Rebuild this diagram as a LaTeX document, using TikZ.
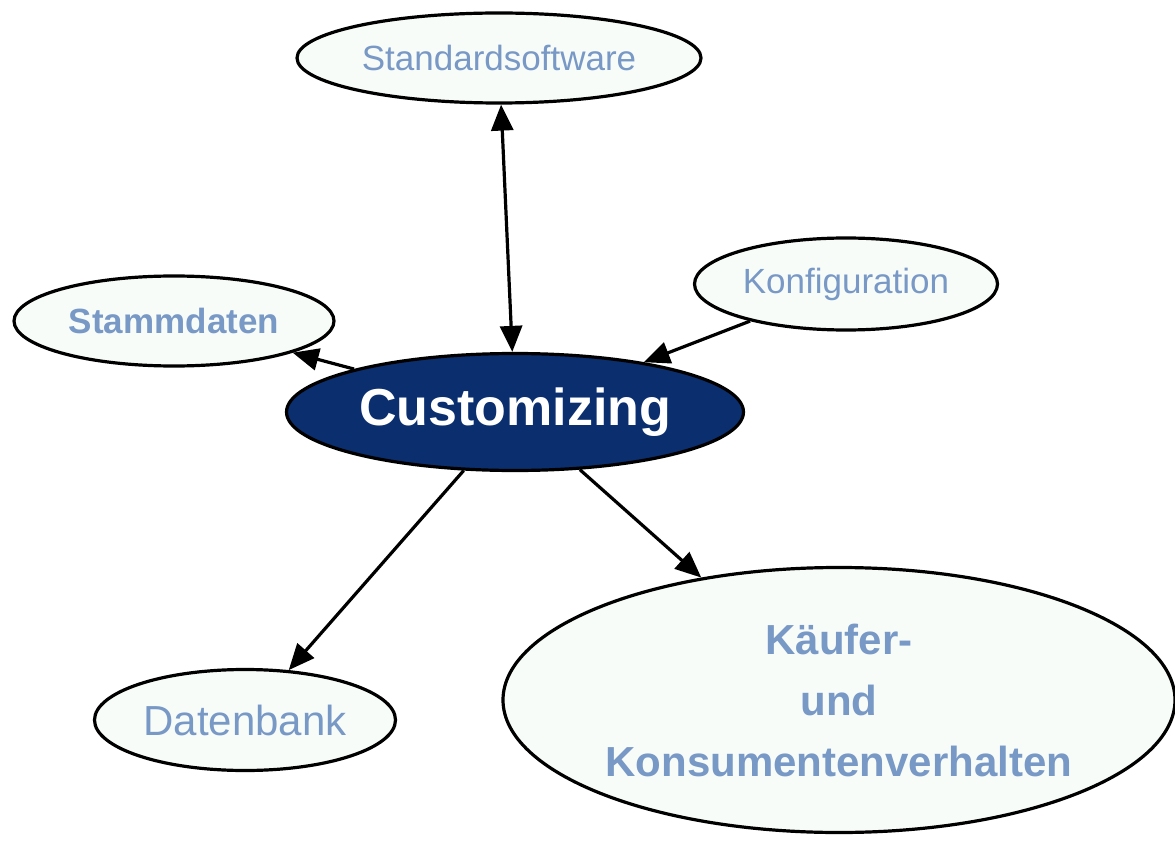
\documentclass[tikz,border=0pt]{standalone}
\usepackage{fontspec}
\setmainfont{Liberation Sans}
\usetikzlibrary{shapes.geometric,arrows.meta}
\definecolor{lightfill}{RGB}{248,252,248}
\definecolor{labelblue}{RGB}{120,152,198}
\definecolor{navy}{RGB}{10,46,110}
\tikzset{
  topic/.style={ellipse,draw=black,line width=3.2pt,fill=lightfill,text=labelblue,inner sep=0pt,align=center},
  hub/.style={ellipse,draw=black,line width=3.2pt,fill=navy,text=white,inner sep=0pt,font=\bfseries\fontsize{52}{60}\selectfont},
  link/.style={line width=3.2pt,-{Triangle[length=26pt,width=22pt]}},
  biglink/.style={line width=3.2pt,{Triangle[length=26pt,width=22pt]}-{Triangle[length=26pt,width=22pt]}}
}
\begin{document}
\begin{tikzpicture}[x=1pt,y=-1pt]
\useasboundingbox (0,0) rectangle (1175,850);
\node[hub,minimum width=457pt,minimum height=117pt] (cust) at (515,412) {Customizing};
\node[topic,minimum width=404pt,minimum height=90pt,font=\fontsize{35}{40}\selectfont] (std) at (499,58) {Standardsoftware};
\node[topic,minimum width=303pt,minimum height=92pt,font=\fontsize{35}{40}\selectfont] (konf) at (846,284) {Konfiguration};
\node[topic,minimum width=320pt,minimum height=90pt,font=\bfseries\fontsize{35}{40}\selectfont] (stamm) at (174,321) {Stammdaten};
\node[topic,minimum width=301pt,minimum height=101pt,font=\fontsize{42}{48}\selectfont] (db) at (245,720) {Datenbank};
\node[topic,minimum width=672pt,minimum height=265pt,font=\bfseries\fontsize{42}{61}\selectfont] (kauf) at (839,700) {Käufer-\\und\\Konsumentenverhalten};
\draw[biglink] (std) -- (cust);
\draw[link] (cust) -- (stamm);
\draw[link] (konf) -- (cust);
\draw[link] (cust) -- (db);
\draw[link] (cust) -- (kauf);
\end{tikzpicture}
\end{document}
